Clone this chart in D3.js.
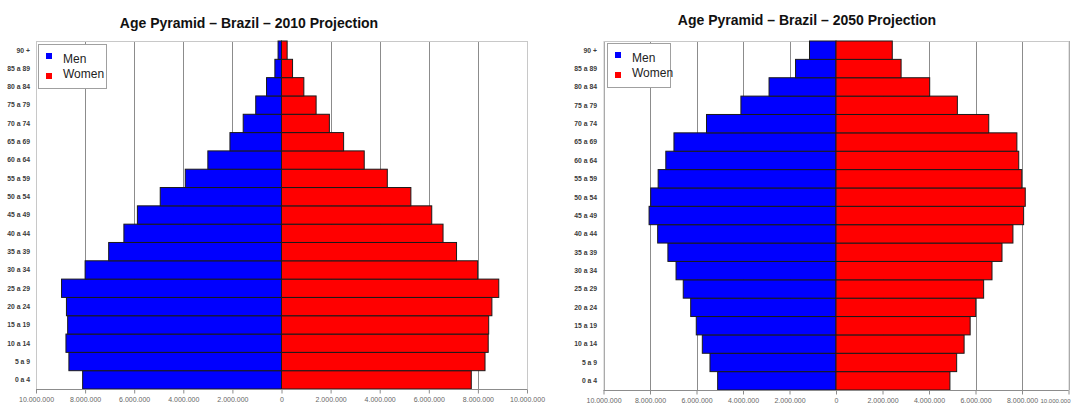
<!DOCTYPE html>
<html>
<head>
<meta charset="utf-8">
<script src="https://d3js.org/d3.v7.min.js"></script>
<style>
	body{ margin:0; background:#fff; }
	svg{ display:block; font-family:"Liberation Sans", Arial, sans-serif; }
	.title{ font-size:14px; font-weight:bold; fill:#111; }
	.grid line{ stroke:#8c8c8c; stroke-width:1; }
	.frame{ fill:none; stroke:#c8c8c8; stroke-width:1; }
	.bar{ stroke:#1a1a1a; stroke-width:1; }
	.agelabel{ font-size:6.8px; font-weight:bold; fill:#3a3a3a; }
	.xaxis text{ font-size:7px; fill:#666; }
	.xaxis line, .xaxis path{ stroke:#8c8c8c; }
	.legend rect.box{ fill:#fff; stroke:#a0a0a0; stroke-width:1; }
	.legend text{ font-size:12px; fill:#222; }
</style>
</head>
<body>
<div id="container"></div>
<script>

// age groups, bottom to top
var ageGroups = ["0 a 4","5 a 9","10 a 14","15 a 19","20 a 24","25 a 29","30 a 34","35 a 39","40 a 44","45 a 49",
	"50 a 54","55 a 59","60 a 64","65 a 69","70 a 74","75 a 79","80 a 84","85 a 89","90 +"];

// population in millions
var men2010   = [8.10, 8.66, 8.78, 8.71, 8.76, 8.96, 8.00, 7.04, 6.42, 5.87, 4.94, 3.92, 3.00, 2.10, 1.56, 1.05, 0.61, 0.27, 0.14];
var women2010 = [7.73, 8.29, 8.42, 8.44, 8.57, 8.85, 7.99, 7.13, 6.58, 6.12, 5.27, 4.31, 3.37, 2.53, 1.95, 1.41, 0.91, 0.45, 0.23];
var men2050   = [5.09, 5.42, 5.75, 6.01, 6.25, 6.57, 6.88, 7.23, 7.67, 8.04, 7.97, 7.65, 7.32, 6.97, 5.57, 4.09, 2.88, 1.74, 1.14];
var women2050 = [4.90, 5.19, 5.51, 5.77, 6.01, 6.35, 6.71, 7.14, 7.61, 8.07, 8.14, 7.99, 7.86, 7.78, 6.57, 5.22, 4.03, 2.80, 2.42];

var tickValues = [-10e6, -8e6, -6e6, -4e6, -2e6, 0, 2e6, 4e6, 6e6, 8e6, 10e6];
var seriesNames = ["Men", "Women"];
var seriesColors = ["#0000ff", "#ff0000"];

var ptBR = d3.formatLocale({decimal: ",", thousands: ".", grouping: [3], currency: ["R$", ""]});
var fmt = ptBR.format(",.0f");

var svg = d3.select("#container").append("svg")
	.attr("width", 1071)
	.attr("height", 403);

function drawPyramid(cfg){
	var g = svg.append("g");

	var x = d3.scaleLinear().domain([-10e6, 10e6]).range([cfg.x0, cfg.x1]);
	var y = d3.scaleBand().domain(ageGroups.slice().reverse()).range([cfg.y0, cfg.y1]);

	// title
	g.append("text").attr("class", "title")
		.attr("x", cfg.titleX).attr("y", cfg.titleY)
		.attr("text-anchor", "middle")
		.text(cfg.title);

	// vertical grid
	g.append("g").attr("class", "grid")
		.selectAll("line").data(tickValues).enter().append("line")
		.attr("x1", function(d){ return Math.round(x(d)) + 0.5; })
		.attr("x2", function(d){ return Math.round(x(d)) + 0.5; })
		.attr("y1", cfg.y0).attr("y2", cfg.y1);

	g.append("rect").attr("class", "frame")
		.attr("x", cfg.x0 + 0.5).attr("y", cfg.y0 + 0.5)
		.attr("width", cfg.x1 - cfg.x0).attr("height", cfg.y1 - cfg.y0);

	// bars
	g.selectAll("rect.men").data(ageGroups).enter().append("rect")
		.attr("class", "bar men")
		.attr("x", function(d, i){ return x(-cfg.men[i] * 1e6); })
		.attr("y", function(d){ return y(d); })
		.attr("width", function(d, i){ return x(0) - x(-cfg.men[i] * 1e6); })
		.attr("height", y.bandwidth())
		.style("fill", seriesColors[0]);

	g.selectAll("rect.women").data(ageGroups).enter().append("rect")
		.attr("class", "bar women")
		.attr("x", x(0))
		.attr("y", function(d){ return y(d); })
		.attr("width", function(d, i){ return x(cfg.women[i] * 1e6) - x(0); })
		.attr("height", y.bandwidth())
		.style("fill", seriesColors[1]);

	// age labels
	g.selectAll("text.agelabel").data(ageGroups).enter().append("text")
		.attr("class", "agelabel")
		.attr("x", cfg.labelX)
		.attr("y", function(d){ return y(d) + y.bandwidth() / 2; })
		.attr("dy", "0.35em")
		.attr("text-anchor", "end")
		.text(function(d){ return d; });

	// x axis
	var axis = d3.axisBottom(x)
		.tickValues(tickValues)
		.tickSize(4)
		.tickPadding(4)
		.tickFormat(function(d){ return fmt(Math.abs(d)); });

	var ax = g.append("g").attr("class", "xaxis")
		.attr("transform", "translate(0," + (cfg.y1 + 0.5) + ")")
		.call(axis)
		.call(function(a){ a.select(".domain").attr("d", "M" + cfg.x0 + ",0H" + cfg.x1); });

	// keep the last label inside the window on the right-hand chart
	if (cfg.clampLast) {
		ax.selectAll(".tick:last-of-type text")
			.attr("text-anchor", "end")
			.attr("x", 1070 - cfg.x1)
			.style("font-size", "6px");
	}

	// legend
	var lg = g.append("g").attr("class", "legend");
	lg.append("rect").attr("class", "box")
		.attr("x", cfg.legX + 0.5).attr("y", cfg.legY + 0.5)
		.attr("width", cfg.legW).attr("height", 44);
	seriesNames.forEach(function(name, i){
		lg.append("rect")
			.attr("x", cfg.legX + 8).attr("y", cfg.legY + 9 + i * 20)
			.attr("width", 6).attr("height", 6)
			.style("fill", seriesColors[i]);
		lg.append("text")
			.attr("x", cfg.legX + 25).attr("y", cfg.legY + 19 + i * 15)
			.text(name);
	});
}

drawPyramid({
	title: "Age Pyramid \u2013 Brazil \u2013 2010 Projection",
	titleX: 249, titleY: 28,
	x0: 36, x1: 527, y0: 41, y1: 389,
	labelX: 30,
	legX: 38, legY: 44, legW: 68,
	men: men2010, women: women2010
});

drawPyramid({
	title: "Age Pyramid \u2013 Brazil \u2013 2050 Projection",
	titleX: 807, titleY: 25,
	x0: 603.5, x1: 1068.5, y0: 41, y1: 390,
	labelX: 597,
	legX: 607, legY: 43, legW: 63,
	men: men2050, women: women2050,
	clampLast: true
});

</script>
</body>
</html>
